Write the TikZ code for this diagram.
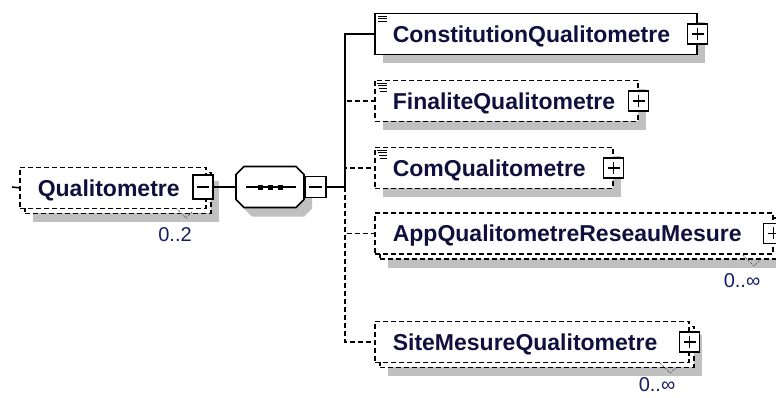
\documentclass[tikz,border=0pt]{standalone}
\usepackage{fontspec}
\setmainfont{Liberation Sans}
\usetikzlibrary{shadows}
\definecolor{txtnavy}{RGB}{16,16,62}
\definecolor{multnavy}{RGB}{20,30,100}
\definecolor{shadowgray}{RGB}{192,192,192}
\tikzset{
  shadowed/.style={drop shadow={shadow xshift=8pt,shadow yshift=-9pt,fill=shadowgray,opacity=1}},
  optline/.style={dash pattern=on 5pt off 3pt},
  elem/.style={draw,fill=white,line width=1.6pt,anchor=north west,inner xsep=18pt,inner ysep=0pt,
    align=left,minimum height=41pt,text height=16.5pt,text depth=0pt,text=txtnavy,
    font=\fontsize{23}{23}\selectfont\bfseries},
  elback/.style={draw,fill=white,line width=1.6pt,optline,anchor=north west,inner sep=0pt,minimum height=41pt,shadowed},
  pmbox/.style={draw,fill=white,line width=1.6pt,minimum size=20pt,inner sep=0pt},
  plusbox/.style={pmbox,path picture={
     \draw[line width=1.6pt] ([xshift=4pt]path picture bounding box.west) -- ([xshift=-4pt]path picture bounding box.east);
     \draw[line width=1.6pt] ([yshift=-4pt]path picture bounding box.north) -- ([yshift=4pt]path picture bounding box.south);}},
  minusbox/.style={pmbox,path picture={
     \draw[line width=1.6pt] ([xshift=4pt]path picture bounding box.west) -- ([xshift=-4pt]path picture bounding box.east);}},
  mult/.style={text=multnavy,font=\fontsize{20}{20}\selectfont,inner sep=0pt},
  conn/.style={line width=1.6pt},
  vmark/.style={line width=0.9pt,black!60,dash pattern=on 2pt off 1.5pt},
  icon/.style={line width=1pt},
}
\begin{document}
\begin{tikzpicture}[x=1pt,y=-1pt]
\useasboundingbox (0,0) rectangle (776,397);
% root element
\node[elback,minimum width=186pt] (qback) at (24,171.5) {};
\node[elem,optline,text width=150pt] (q) at (19,166.5) {Qualitometre};
\node[pmbox,minimum height=24pt,path picture={\draw[line width=1.6pt] ([xshift=4pt]path picture bounding box.west) -- ([xshift=-4pt]path picture bounding box.east);}] (qminus) at (203,187) {};
\coordinate (qstub) at (12,187);
\draw[conn] (qstub) -- (q.west);
\node[mult] (qmult) at (175,235) {0..2};
\draw[vmark] (176,208) -- (186,218) -- (192,212);
% sequence (octagon drawn directly around an anchor node)
\node[minimum width=68pt,minimum height=41pt,inner sep=0pt] (seq) at (270,187) {};
\fill[shadowgray] (252,175.5)--(304,175.5)--(312,183.5)--(312,208.5)--(304,216.5)--(252,216.5)--(244,208.5)--(244,183.5)--cycle;
\filldraw[fill=white,line width=1.6pt] (244,166.5)--(296,166.5)--(304,174.5)--(304,199.5)--(296,207.5)--(244,207.5)--(236,199.5)--(236,174.5)--cycle;
\node[minusbox,minimum size=21pt,anchor=west] (seqminus) at (seq.east) {};
\draw[conn] ([xshift=10pt]seq.west) -- ([xshift=-8pt]seq.east);
\fill (257.5,184.5) rectangle (262.5,189.5);
\fill (267.5,184.5) rectangle (272.5,189.5);
\fill (277.5,184.5) rectangle (282.5,189.5);
\coordinate (j) at (345,187);
\draw[conn] (qminus.east) -- (seq.west);
\draw[conn] (seqminus.east) -- (j);
% children
\node[elem,shadowed,text width=286pt] (cons) at (374,12.5) {ConstitutionQualitometre};
\node[plusbox] (consplus) at (cons.east) {};
\draw[icon] (378,16)--(387,16) (378,18.5)--(387,18.5) (378,21)--(387,21);

\node[elem,optline,shadowed,text width=227pt] (fin) at (374,79.5) {FinaliteQualitometre};
\node[plusbox] (finplus) at (fin.east) {};
\draw[icon] (377,83)--(387,83) (378,85.7)--(387,85.7) (379,88.4)--(387,88.4) (380,91)--(387,91);

\node[elem,optline,shadowed,text width=202pt] (com) at (374,146.5) {ComQualitometre};
\node[plusbox] (complus) at (com.east) {};
\draw[icon] (377,150)--(387,150) (378,152.7)--(387,152.7) (379,155.4)--(387,155.4) (380,158)--(387,158);

\node[elback,minimum width=398pt] (appback) at (379,217) {};
\node[elem,optline,text width=362pt] (app) at (374,212) {AppQualitometreReseauMesure};
\node[plusbox] (appplus) at (app.east) {};
\node[mult] (appmult) at (742,281) {0..∞};
\draw[vmark] (743,255) -- (754,266) -- (759,261);

\node[elback,minimum width=314pt] (siteback) at (379,325.5) {};
\node[elem,optline,text width=278pt] (site) at (374,320.5) {SiteMesureQualitometre};
\node[plusbox] (siteplus) at (site.east) {};
\node[mult] (sitemult) at (657,385) {0..∞};
\draw[vmark] (660,363) -- (670,373) -- (676,368);

\draw[conn] (j) |- (cons.west);
\draw[conn,optline] (j) |- (fin.west);
\draw[conn,optline] (j) |- (com.west);
\draw[conn,optline] (j) |- (app.west);
\draw[conn,optline] (j) |- (site.west);
\end{tikzpicture}
\end{document}
